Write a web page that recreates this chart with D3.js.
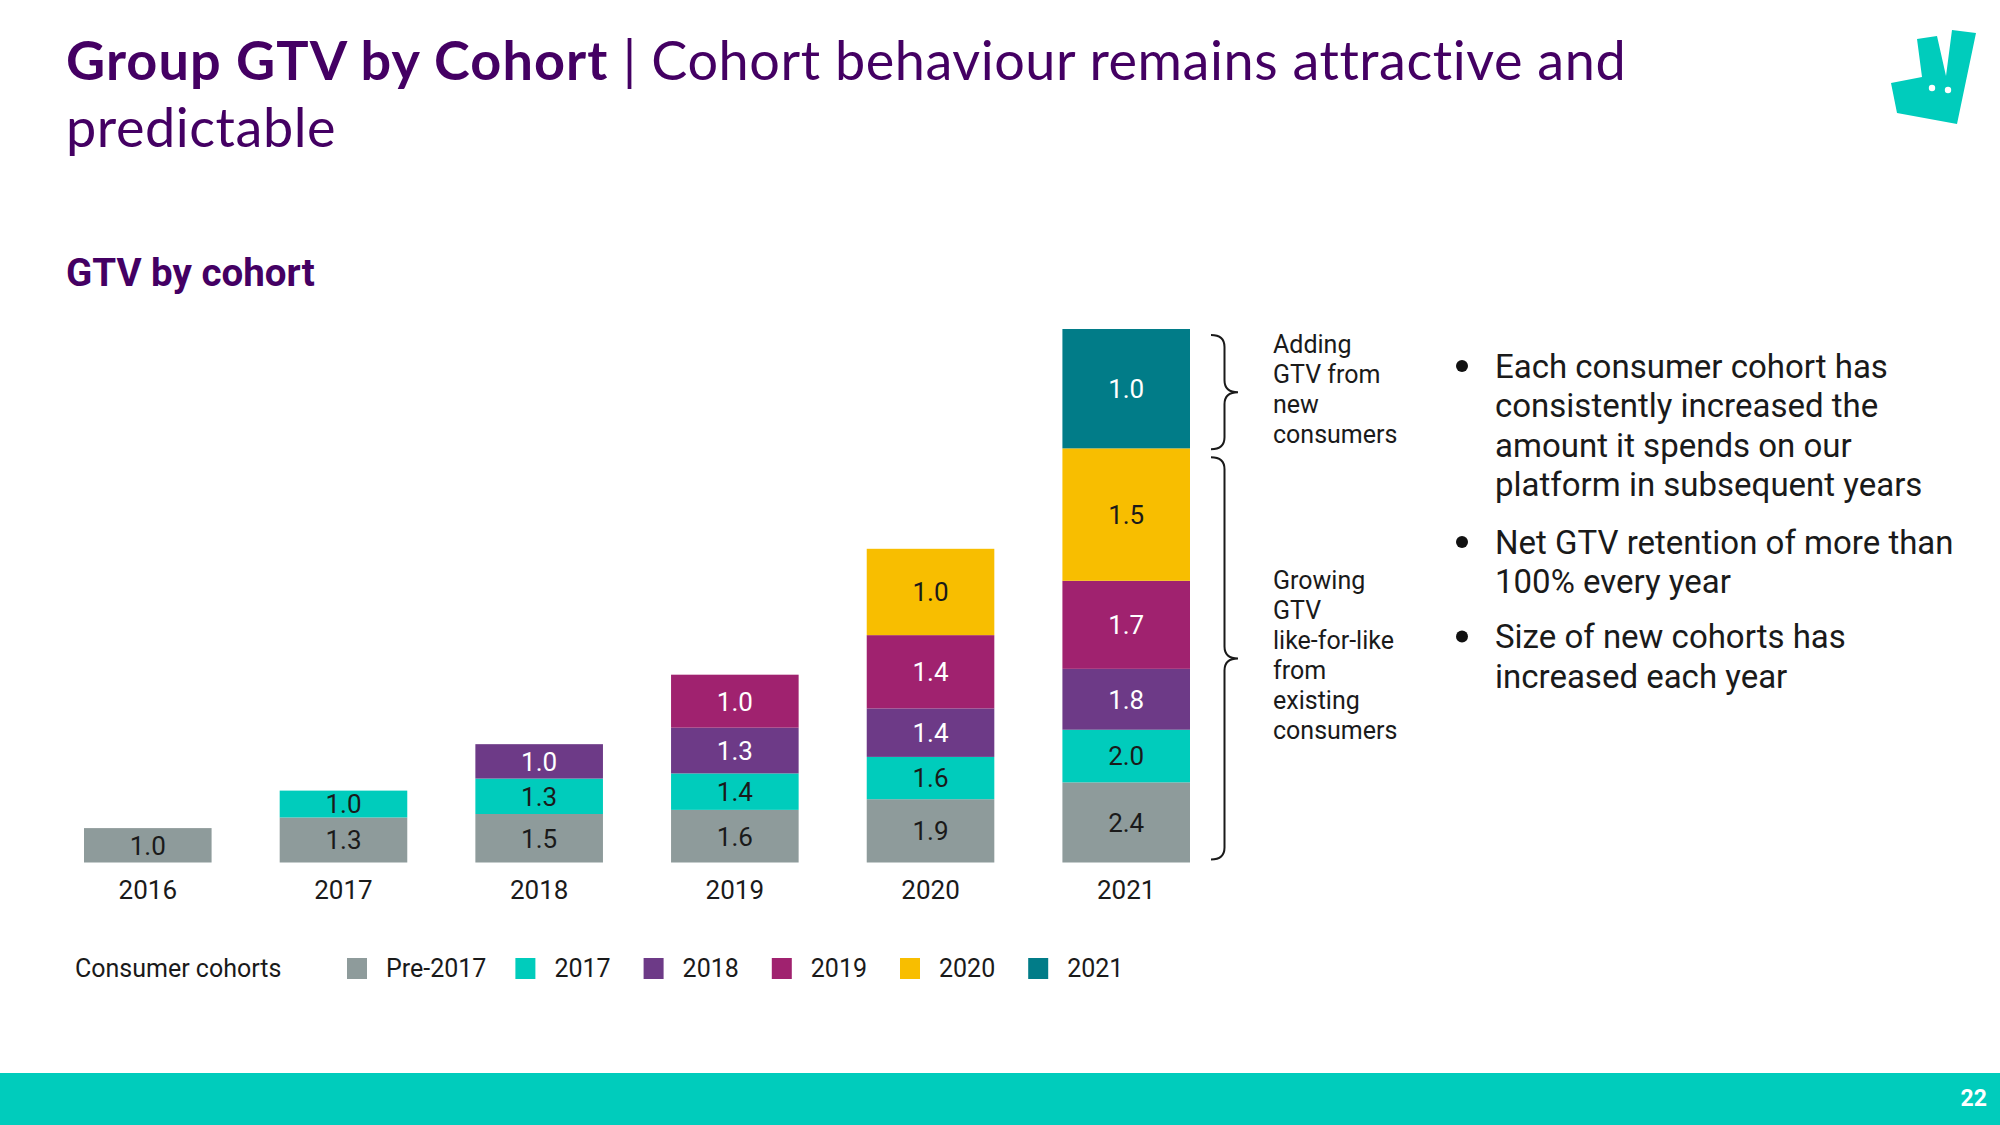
<!DOCTYPE html>
<html><head><meta charset="utf-8">
<script src="https://cdn.jsdelivr.net/npm/d3@7"></script>
<style>
html,body{margin:0;padding:0;background:#fff;}
svg{display:block;}
</style></head>
<body>
<svg id="chart" width="2000" height="1125"></svg>
<script>
// ---------- data ----------
const years = ["2016","2017","2018","2019","2020","2021"];
const cohorts = ["Pre-2017","2017","2018","2019","2020","2021"];
const cohortColors = ["#8E9B9B","#00CCBC","#6D3A87","#A0226F","#F8BE00","#017C88"];
const labelColors = ["#1a1a1a","#1a1a1a","#ffffff","#ffffff","#1a1a1a","#ffffff"];
// index labels (each cohort's first-year GTV = 1.0)
const idxPre2017 = [1.0, 1.3, 1.5, 1.6, 1.9, 2.4];
const idx2017 = [null, 1.0, 1.3, 1.4, 1.6, 2.0];
const idx2018 = [null, null, 1.0, 1.3, 1.4, 1.8];
const idx2019 = [null, null, null, 1.0, 1.4, 1.7];
const idx2020 = [null, null, null, null, 1.0, 1.5];
const idx2021 = [null, null, null, null, null, 1.0];
// relative GTV size of each segment (bar heights, relative to Pre-2017 in 2016)
const gtvPre2017 = [1.00, 1.31, 1.41, 1.53, 1.84, 2.33];
const gtv2017 = [0, 0.78, 1.03, 1.06, 1.23, 1.53];
const gtv2018 = [0, 0, 1.00, 1.33, 1.41, 1.77];
const gtv2019 = [0, 0, 0, 1.54, 2.13, 2.56];
const gtv2020 = [0, 0, 0, 0, 2.51, 3.85];
const gtv2021 = [0, 0, 0, 0, 0, 3.47];
const idxAll = [idxPre2017, idx2017, idx2018, idx2019, idx2020, idx2021];
const gtvAll = [gtvPre2017, gtv2017, gtv2018, gtv2019, gtv2020, gtv2021];

const titleBold = "Group GTV by Cohort";
const titleRest = " | Cohort behaviour remains attractive and";
const titleLine2 = "predictable";
const subtitle = "GTV by cohort";
const braceTop = ["Adding","GTV from","new","consumers"];
const braceBottom = ["Growing","GTV","like-for-like","from","existing","consumers"];
const bullets = [
  ["Each consumer cohort has","consistently increased the","amount it spends on our","platform in subsequent years"],
  ["Net GTV retention of more than","100% every year"],
  ["Size of new cohorts has","increased each year"]
];
const legendTitle = "Consumer cohorts";
const pageNumber = "22";

// ---------- setup ----------
const svg = d3.select("#chart");
const purple = "#440063";
const teal = "#00CCBC";
svg.append("rect").attr("width",2000).attr("height",1125).attr("fill","#fff");

// title
const t = svg.append("text").attr("x",66).attr("y",80)
  .attr("font-family","Lato, 'Open Sans', sans-serif").attr("font-size",54).attr("fill",purple);
t.append("tspan").attr("font-weight",700).attr("letter-spacing",1.1).text(titleBold);
t.append("tspan").attr("font-weight",400).attr("letter-spacing",0.55).text(titleRest);
svg.append("text").attr("x",66).attr("y",147)
  .attr("font-family","Lato, 'Open Sans', sans-serif").attr("font-size",54).attr("letter-spacing",0.55).attr("fill",purple)
  .text(titleLine2);

svg.append("text").attr("x",66).attr("y",286)
  .attr("font-family","Roboto, sans-serif").attr("font-weight",700).attr("font-size",38.5)
  .attr("fill",purple).text(subtitle);

// logo (Deliveroo kangaroo)
svg.append("path")
  .attr("d","M1917,39 L1937,36 L1946,76 L1952,30 L1976,33 L1957,124 L1897,113 L1891,83 L1922,77 Z")
  .attr("fill",teal);
svg.append("circle").attr("cx",1932).attr("cy",88).attr("r",3.2).attr("fill","#fff");
svg.append("circle").attr("cx",1948).attr("cy",90).attr("r",3.2).attr("fill","#fff");

// ---------- chart ----------
const table = years.map((y,i)=>{
  const row = {year:y};
  cohorts.forEach((c,k)=>{ row[c] = gtvAll[k][i]; });
  return row;
});
const stack = d3.stack().keys(cohorts)(table);
const totals = table.map(r=>d3.sum(cohorts,c=>r[c]));

const x = d3.scaleBand().domain(years).range([84, 1190]).paddingInner(0.348).paddingOuter(0);
const y = d3.scaleLinear().domain([0, d3.max(totals)]).range([862.5, 329]);

const g = svg.append("g");
stack.forEach((layer,k)=>{
  layer.forEach((d,i)=>{
    if (idxAll[k][i] == null) return;
    g.append("rect")
      .attr("x",x(years[i])).attr("width",x.bandwidth())
      .attr("y",y(d[1])).attr("height",y(d[0])-y(d[1]))
      .attr("fill",cohortColors[k]);
    g.append("text")
      .attr("x",x(years[i])+x.bandwidth()/2)
      .attr("y",(y(d[0])+y(d[1]))/2)
      .attr("dy","0.36em")
      .attr("text-anchor","middle")
      .attr("font-family","Roboto, sans-serif").attr("font-size",26)
      .attr("fill",labelColors[k])
      .text(d3.format(".1f")(idxAll[k][i]));
  });
});

// x axis labels
const xAxis = d3.axisBottom(x).tickSize(0).tickPadding(0);
const ax = svg.append("g").attr("transform","translate(0,885)").call(xAxis);
ax.select(".domain").remove();
ax.selectAll("text").attr("font-family","Roboto, sans-serif").attr("font-size",26)
  .attr("fill","#1a1a1a").attr("dy","0.55em");

// braces
function brace(x0, y1, y2, depth) {
  const x1 = x0 + depth*0.5, x2 = x0 + depth, ym = (y1+y2)/2, r = 12;
  return `M${x0},${y1} Q${x1},${y1} ${x1},${y1+r} L${x1},${ym-r} Q${x1},${ym} ${x2},${ym} ` +
         `Q${x1},${ym} ${x1},${ym+r} L${x1},${y2-r} Q${x1},${y2} ${x0},${y2}`;
}
const last = years.length-1;
const topSeg = stack[cohorts.length-1][last];
const bx = x(years[last]) + x.bandwidth() + 21;
svg.append("path").attr("d",brace(bx, y(topSeg[1])+6, y(topSeg[0])+1, 27))
  .attr("fill","none").attr("stroke","#1a1a1a").attr("stroke-width",2);
svg.append("path").attr("d",brace(bx, y(topSeg[0])+9, y(0)-3, 27))
  .attr("fill","none").attr("stroke","#1a1a1a").attr("stroke-width",2);

function lines(arr, x0, yc, lh, size) {
  const tt = svg.append("text").attr("font-family","Roboto, sans-serif").attr("font-size",size).attr("fill","#1a1a1a");
  arr.forEach((s,i)=>tt.append("tspan").attr("x",x0).attr("y",yc+i*lh).attr("dy","0.36em").text(s));
}
lines(braceTop, 1273, 344, 30, 25);
lines(braceBottom, 1273, 580, 30, 25);

// bullets
const bulletY = [366, 542, 636.5];
bullets.forEach((b,i)=>{
  svg.append("circle").attr("cx",1462).attr("cy",bulletY[i]).attr("r",6).attr("fill","#111");
  lines(b, 1495, bulletY[i], 39.5, 33);
});

// legend
const lg = svg.append("g");
lg.append("text").attr("x",75).attr("y",968).attr("dy","0.36em")
  .attr("font-family","Roboto, sans-serif").attr("font-size",25).attr("fill","#1a1a1a").text(legendTitle);
let lx = 347;
cohorts.forEach((c,k)=>{
  lg.append("rect").attr("x",lx).attr("y",958).attr("width",20).attr("height",21).attr("fill",cohortColors[k]);
  const tx = lg.append("text").attr("x",lx+39).attr("y",968).attr("dy","0.36em")
    .attr("font-family","Roboto, sans-serif").attr("font-size",25).attr("fill","#1a1a1a").text(c);
  lx = lx + 39 + tx.node().getComputedTextLength() + (k === 0 ? 29 : 33);
});

// footer
svg.append("rect").attr("x",0).attr("y",1073).attr("width",2000).attr("height",52).attr("fill",teal);
svg.append("text").attr("x",1987).attr("y",1098).attr("dy","0.36em").attr("text-anchor","end")
  .attr("font-family","Roboto, sans-serif").attr("font-weight",700).attr("font-size",23)
  .attr("fill","#fff").text(pageNumber);
</script>
</body></html>
